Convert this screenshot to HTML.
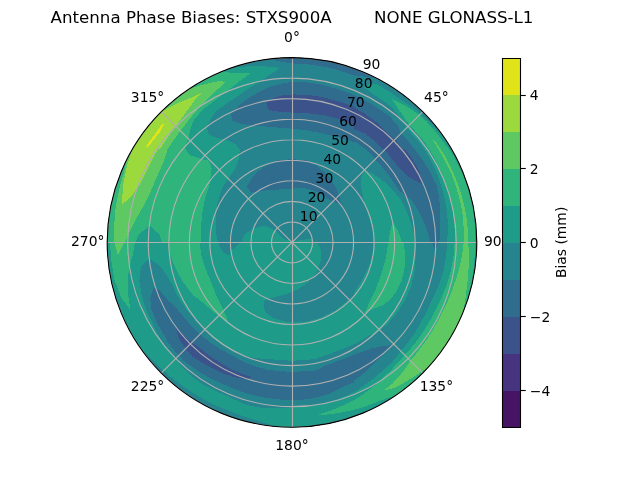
<!DOCTYPE html>
<html lang="en"><head><meta charset="utf-8"><title>Antenna Phase Biases</title>
<style>html,body{margin:0;padding:0;background:#fff;overflow:hidden}svg{display:block}</style>
</head><body>
<svg width="640" height="480" viewBox="0 0 460.8 345.6"> <defs> <style type="text/css">*{stroke-linejoin: round; stroke-linecap: butt}</style> </defs> <g id="figure_1"> <g id="patch_1"> <path d="M 0 345.6 L 460.8 345.6 L 460.8 0 L 0 0 z " style="fill: #ffffff"/> </g> <g id="axes_1"> <g id="patch_2"> <path d="M 343.29 174.52 C 343.29 157.05 339.85 139.75 333.16 123.60 C 326.48 107.46 316.67 92.79 304.32 80.44 C 291.96 68.08 277.30 58.28 261.15 51.60 C 245.01 44.91 227.71 41.47 210.24 41.47 C 192.76 41.47 175.46 44.91 159.32 51.60 C 143.17 58.28 128.51 68.08 116.15 80.44 C 103.80 92.79 93.99 107.46 87.31 123.60 C 80.62 139.75 77.18 157.05 77.18 174.52 C 77.18 192.00 80.62 209.30 87.31 225.44 C 93.99 241.58 103.80 256.25 116.15 268.61 C 128.51 280.96 143.17 290.76 159.32 297.45 C 175.46 304.14 192.76 307.58 210.24 307.58 C 227.71 307.58 245.01 304.14 261.15 297.45 C 277.30 290.76 291.96 280.96 304.32 268.61 C 316.67 256.25 326.48 241.58 333.16 225.44 C 339.85 209.30 343.29 192.00 343.29 174.52 M 210.24 174.52 C 210.24 174.52 210.24 174.52 210.24 174.52 C 210.24 174.52 210.24 174.52 210.24 174.52 C 210.24 174.52 210.24 174.52 210.24 174.52 C 210.24 174.52 210.24 174.52 210.24 174.52 C 210.24 174.52 210.24 174.52 210.24 174.52 C 210.24 174.52 210.24 174.52 210.24 174.52 C 210.24 174.52 210.24 174.52 210.24 174.52 C 210.24 174.52 210.24 174.52 210.24 174.52 C 210.24 174.52 210.24 174.52 210.24 174.52 C 210.24 174.52 210.24 174.52 210.24 174.52 C 210.24 174.52 210.24 174.52 210.24 174.52 C 210.24 174.52 210.24 174.52 210.24 174.52 C 210.24 174.52 210.24 174.52 210.24 174.52 C 210.24 174.52 210.24 174.52 210.24 174.52 C 210.24 174.52 210.24 174.52 210.24 174.52 C 210.24 174.52 210.24 174.52 210.24 174.52 z " style="fill: #ffffff"/> </g> <g id="contours" clip-path="url(#p0adf4e4803)"><g transform="scale(0.72)" shape-rendering="crispEdges"><rect x="100" y="50" width="390" height="390" fill="#25848e"/> <clipPath id="tc00"><rect x="86" y="36" width="144" height="113"/></clipPath> <g clip-path="url(#tc00)"><rect x="86" y="36" width="144" height="113" fill="#1e9c89"/><polygon points="241.6,73.8 230.0,72.7 223.0,71.3 220.3,65.7 154.4,100.6 117.6,149.0 125.4,156.8 184.1,150.0 186.4,143.2 188.3,138.7 189.7,131.6 193.2,120.9 202.9,109.3 212.6,102.1 222.2,94.4 230.0,88.6 241.6,80.2" fill="#2fb47c"/><polygon points="225.9,82.0 219.9,80.8 209.1,83.1 198.0,86.2 187.2,90.1 184.5,87.0 154.4,100.6 117.6,149.0 125.4,152.9 167.6,149.0 172.8,141.2 180.6,130.6 191.2,117.0 200.9,105.4 210.6,95.7 220.3,87.0" fill="#5ec962"/><polygon points="200.9,93.2 191.2,97.7 181.6,101.5 171.9,106.0 163.7,110.6 161.2,107.3 117.6,149.0 125.4,152.9 159.3,150.0 167.6,137.4 175.8,126.1 187.4,110.2 195.1,99.6" fill="#9bd93c"/><polygon points="145.7,146.7 162.6,123.4 164.1,124.2 160.6,131.2 147.8,147.4" fill="#dfe318"/><polygon points="241.6,92.8 230.0,101.1 222.2,106.8 217.2,110.1 212.2,116.3 206.6,127.5 209.1,134.5 217.2,138.2 228.4,140.7 241.6,145.1" fill="#25848e"/></g> <clipPath id="tc01"><rect x="230" y="36" width="124" height="113"/></clipPath> <g clip-path="url(#tc01)"><rect x="230" y="36" width="124" height="113" fill="#25848e"/><polygon points="226.1,139.3 228.4,140.7 236.0,144.4 239.7,150.0 239.7,152.9 226.1,152.9" fill="#1e9c89"/><polygon points="226.1,65.7 230.0,68.4 241.6,66.8 259.1,65.7 280.0,68.0 268.8,75.4 259.1,82.2 249.4,88.0 239.7,94.8 230.0,101.5 226.1,104.4" fill="#1e9c89"/><polygon points="226.1,72.5 230.0,73.0 250.3,73.2 239.7,81.2 230.0,88.9 226.1,91.8" fill="#2fb47c"/><polygon points="275.5,60.8 292.0,63.4 311.4,64.7 330.8,68.0 354.0,75.4 357.9,52.1 275.5,52.1" fill="#2f6c8e"/><polygon points="231.0,112.6 234.3,109.7 243.6,101.7 255.0,94.2 267.6,87.6 285.0,82.7 292.0,82.3 305.9,82.3 319.9,84.1 338.9,89.3 357.9,96.7 357.9,143.2 354.0,142.2 338.5,137.4 323.0,133.5 307.5,130.6 292.0,128.7 274.6,127.3 256.0,125.8 241.0,123.8 232.3,120.7" fill="#2f6c8e"/><polygon points="266.8,102.5 271.7,99.0 280.4,95.7 292.0,94.4 307.5,94.8 323.0,97.1 338.5,101.5 357.9,107.9 357.9,126.1 354.0,124.8 338.5,119.0 323.0,115.1 307.5,113.2 292.0,112.6 274.6,111.2 267.8,109.3" fill="#3b528b"/></g> <clipPath id="tc02"><rect x="354" y="36" width="144" height="113"/></clipPath> <g clip-path="url(#tc02)"><rect x="354" y="36" width="144" height="113" fill="#25848e"/><polygon points="350.1,61.8 354.0,66.7 365.6,70.5 376.9,77.3 369.5,77.7 361.8,76.2 354.0,75.4 350.1,74.4" fill="#2f6c8e"/><polygon points="346.8,91.8 357.1,96.3 371.8,104.1 388.1,114.9 397.0,124.2 401.3,133.3 406.7,139.1 415.0,149.8 416.0,151.3 350.1,150.9" fill="#2f6c8e"/><polygon points="350.1,105.4 354.0,107.3 365.6,114.1 377.2,122.8 386.0,131.9 392.8,137.8 397.6,142.2 403.4,150.9 384.0,150.9 374.9,141.2 365.0,133.7 356.3,130.0 350.1,127.3" fill="#3b528b"/><polygon points="350.1,139.3 356.1,142.4 365.0,148.8 368.5,152.9 350.1,152.9" fill="#25848e"/></g> <clipPath id="tc10"><rect x="86" y="149" width="144" height="93"/></clipPath> <g clip-path="url(#tc10)"><rect x="86" y="149" width="144" height="93" fill="#2fb47c"/><polygon points="125.4,145.1 167.6,145.1 167.6,149.0 164.1,160.6 157.3,176.1 149.6,193.6 142.8,207.1 135.1,220.7 129.2,232.3 124.4,243.9 113.8,243.9 114.1,226.5 115.7,207.1 119.6,187.8 124.4,170.3 126.3,160.6" fill="#5ec962"/><polygon points="129.2,145.1 132.5,149.0 127.3,164.5 123.4,183.9 121.5,205.2 131.2,196.5 138.9,185.8 144.8,174.2 151.5,160.6 157.9,149.0 158.7,145.1" fill="#9bd93c"/><polygon points="135.1,243.9 138.0,235.2 149.6,225.5 159.3,234.2 162.6,243.9" fill="#1e9c89"/><polygon points="183.5,145.1 189.3,154.8 197.1,157.7 208.7,160.6 211.6,168.4 209.7,183.9 204.8,199.4 201.9,214.9 200.9,230.4 201.3,245.9 241.6,245.9 241.6,145.1" fill="#1e9c89"/><polygon points="233.9,170.3 230.0,176.1 222.2,187.8 217.4,203.2 215.5,218.8 216.4,234.2 218.8,245.9 241.6,245.9" fill="#25848e"/></g> <clipPath id="tc11"><rect x="230" y="149" width="124" height="93"/></clipPath> <g clip-path="url(#tc11)"><rect x="230" y="149" width="124" height="93" fill="#25848e"/><polygon points="246.5,186.8 253.2,176.1 262.9,167.4 276.5,160.6 292.0,159.1 307.5,160.6 319.1,167.4 328.8,176.1 335.6,186.8 339.5,197.4 341.8,204.8 335.6,202.3 326.9,198.4 315.2,190.7 303.6,187.8 292.0,188.7 276.5,189.7 262.9,190.7 251.3,192.6" fill="#2f6c8e"/><polygon points="240.7,243.9 244.5,234.2 253.2,228.4 264.5,225.7 274.4,230.0 280.0,236.0 283.1,238.7 286.6,240.1 290.1,240.6 293.6,241.4 295.1,240.8 299.0,240.4 305.0,239.5 312.0,239.1 316.2,243.9" fill="#1e9c89"/><polygon points="226.1,145.1 240.1,145.1 239.7,150.0 238.5,160.0 234.7,169.9 230.0,176.1 226.1,180.0" fill="#1e9c89"/></g> <clipPath id="tc12"><rect x="354" y="149" width="144" height="93"/></clipPath> <g clip-path="url(#tc12)"><rect x="354" y="149" width="144" height="93" fill="#25848e"/><polygon points="359.8,143.2 365.0,148.8 371.2,155.0 375.5,159.5 381.3,166.2 387.5,173.8 393.7,182.5 398.8,190.1 405.3,195.5 411.9,200.3 417.9,210.0 423.0,219.9 427.0,230.0 429.9,240.1 431.9,248.0 440.6,248.0 439.4,242.4 440.2,226.9 440.4,213.5 439.2,197.4 436.3,184.1 428.8,169.5 421.4,158.3 415.0,149.8 412.1,145.1" fill="#2f6c8e"/><polygon points="383.1,145.1 385.0,150.0 392.6,160.2 399.9,168.4 407.5,176.1 415.0,180.4 421.8,183.9 420.1,173.2 416.2,165.5 410.0,155.4 402.4,146.3 401.5,145.1" fill="#3b528b"/><polygon points="364.7,169.5 372.4,173.8 380.0,178.6 387.5,185.0 392.6,190.1 401.1,200.0 405.9,210.0 410.0,219.9 413.1,230.0 415.0,240.1 415.8,248.0 374.3,248.0 374.3,243.9 373.4,234.2 370.5,222.6 365.6,207.1 361.8,191.6 360.8,178.1" fill="#1e9c89"/><polygon points="392.8,221.7 397.6,230.4 402.8,243.9 388.3,243.9 389.8,232.3" fill="#2fb47c"/></g> <clipPath id="tc20"><rect x="86" y="242" width="144" height="93"/></clipPath> <g clip-path="url(#tc20)"><rect x="86" y="242" width="144" height="93" fill="#1e9c89"/><polygon points="109.9,238.1 109.9,242.0 111.4,261.4 114.7,280.8 121.5,298.2 130.6,310.2 128.3,296.2 127.7,280.8 129.2,267.2 133.1,253.6 135.1,242.0 135.1,238.1" fill="#2fb47c"/><polygon points="112.8,238.1 114.1,242.0 118.0,255.2 121.5,247.8 124.6,242.0 125.0,238.1" fill="#5ec962"/><polygon points="167.6,238.1 167.6,242.0 169.9,253.6 174.8,267.2 183.5,282.7 193.2,295.3 200.0,300.3 211.0,309.6 220.3,317.6 228.4,321.8 221.9,306.5 215.7,294.1 210.6,280.8 204.8,267.2 200.9,253.6 200.0,242.0 200.0,238.1" fill="#2fb47c"/><polygon points="148.6,258.5 157.9,263.9 161.4,267.8 167.0,275.9 173.0,285.8 176.5,293.9 184.5,307.1 194.0,318.9 204.2,330.2 211.6,337.3 158.7,336.9 153.5,325.3 146.7,311.8 141.8,296.2 139.3,280.8 140.9,267.2" fill="#25848e"/><polygon points="153.5,287.3 159.9,290.4 168.0,300.1 175.4,307.1 180.0,312.3 184.3,317.8 188.7,323.0 200.2,334.2 203.3,337.3 164.7,336.9 157.3,323.4 151.5,309.8 150.2,298.2" fill="#2f6c8e"/><polygon points="175.9,327.6 184.5,337.3 178.5,337.3" fill="#3b528b"/><polygon points="217.4,238.1 219.3,245.9 223.2,252.7 230.0,255.6 233.9,256.5 233.9,238.1" fill="#25848e"/></g> <clipPath id="tc21"><rect x="230" y="242" width="124" height="93"/></clipPath> <g clip-path="url(#tc21)"><rect x="230" y="242" width="124" height="93" fill="#1e9c89"/><polygon points="317.2,238.1 317.2,242.0 321.1,249.8 320.7,261.4 316.2,273.0 307.5,282.7 297.8,289.5 286.2,294.3 274.6,297.2 264.9,300.1 263.3,305.9 265.8,312.7 272.6,317.6 282.3,321.1 292.0,322.4 307.5,321.4 321.1,317.6 334.6,310.8 346.2,302.1 354.0,296.2 357.9,294.3 357.9,238.1" fill="#25848e"/><polygon points="226.1,238.1 239.7,238.1 238.7,243.9 233.9,248.8 230.0,250.7 226.1,251.7" fill="#25848e"/></g> <clipPath id="tc22"><rect x="354" y="242" width="144" height="93"/></clipPath> <g clip-path="url(#tc22)"><rect x="354" y="242" width="144" height="93" fill="#25848e"/><polygon points="431.1,238.1 431.9,242.0 435.0,250.7 439.2,242.0 440.6,238.1" fill="#2f6c8e"/><polygon points="374.3,238.1 374.3,242.0 372.4,253.6 368.5,267.2 361.8,280.8 354.0,292.4 350.1,297.2 350.1,338.9 372.4,336.9 380.0,330.0 387.7,323.8 397.2,312.7 405.0,300.3 411.2,286.2 414.6,270.7 415.8,255.0 415.6,242.0 415.6,238.1" fill="#1e9c89"/><polygon points="388.3,238.1 388.3,242.0 386.0,257.5 381.1,274.9 375.3,290.4 369.5,302.1 364.7,313.3 373.4,308.8 383.1,305.0 389.8,300.1 395.7,292.4 401.5,280.8 404.8,267.2 405.3,253.6 403.4,242.0 403.4,238.1" fill="#2fb47c"/></g> <clipPath id="tc30"><rect x="86" y="335" width="144" height="113"/></clipPath> <g clip-path="url(#tc30)"><rect x="86" y="335" width="144" height="113" fill="#1e9c89"/><polygon points="156.0,330.0 159.3,336.9 163.3,342.8 170.9,353.8 178.5,362.5 184.5,369.5 193.2,377.6 204.8,385.4 218.4,392.2 230.0,397.0 233.9,398.6 233.9,331.1" fill="#25848e"/><polygon points="163.0,330.0 167.2,341.2 175.9,352.4 183.5,360.6 189.3,365.0 200.9,372.8 214.5,380.5 230.0,386.9 233.9,388.3 233.9,331.1" fill="#2f6c8e"/><polygon points="175.9,328.0 175.9,330.0 179.8,340.0 184.7,347.6 193.2,357.3 202.9,363.1 212.6,368.5 223.4,373.9 233.9,376.1 233.9,370.3 231.2,369.1 220.3,362.9 209.1,355.3 198.4,347.0 190.5,341.4 183.5,335.6" fill="#3b528b"/><polygon points="197.1,331.1 200.2,334.2 210.6,342.9 220.1,348.9 231.9,355.5 233.9,356.7 233.9,331.1" fill="#25848e"/><polygon points="205.2,331.1 215.5,340.2 229.8,349.9 233.9,351.7 233.9,331.1" fill="#1e9c89"/></g> <clipPath id="tc31"><rect x="230" y="335" width="124" height="113"/></clipPath> <g clip-path="url(#tc31)"><rect x="230" y="335" width="124" height="113" fill="#1e9c89"/><polygon points="226.1,347.4 229.8,349.9 241.8,355.0 254.4,358.1 269.3,359.2 292.0,360.8 314.7,359.2 326.5,355.0 342.0,349.3 357.1,342.6 357.9,342.2 357.9,391.6 355.7,392.5 340.1,399.5 320.5,404.2 306.3,406.5 292.0,407.5 277.5,408.0 262.7,407.9 249.8,405.9 242.8,403.4 229.4,397.2 224.0,395.1" fill="#25848e"/><polygon points="226.1,352.4 231.9,355.5 247.8,363.9 267.2,369.9 292.0,372.0 316.8,370.3 324.9,365.6 341.8,359.6 356.3,354.0 357.9,353.4 357.9,380.5 354.0,382.5 344.3,386.3 333.5,392.0 325.7,395.1 307.5,399.3 292.0,400.1 276.5,399.3 261.0,397.0 245.5,393.1 230.0,387.3 226.1,385.8" fill="#2f6c8e"/><polygon points="226.1,367.0 231.2,369.1 240.7,373.4 250.0,376.5 251.7,377.8 245.3,379.0 234.5,377.2 226.1,375.1" fill="#3b528b"/></g> <clipPath id="tc32"><rect x="354" y="335" width="144" height="113"/></clipPath> <g clip-path="url(#tc32)"><rect x="354" y="335" width="144" height="113" fill="#25848e"/><polygon points="350.1,355.9 356.9,353.6 372.4,348.2 383.4,345.9 391.8,345.1 383.4,353.6 375.7,362.1 367.8,370.1 356.9,378.6 350.1,383.4" fill="#2f6c8e"/><polygon points="350.1,331.1 373.4,331.1 369.3,335.6 356.9,342.8 350.1,346.6" fill="#1e9c89"/></g> <polygon points="282.3,427.6 280.7,427.2 279.1,426.9 277.5,426.5 275.9,426.1 274.3,425.7 272.8,425.3 271.2,424.9 269.6,424.5 268.1,424.0 266.5,423.5 265.0,423.1 263.5,422.6 261.9,422.1 260.4,421.6 258.9,421.2 257.3,420.7 255.8,420.3 254.3,419.9 252.8,419.4 251.2,418.9 249.7,418.5 248.2,418.0 246.7,417.5 245.2,416.9 243.7,416.4 242.3,415.9 240.8,415.4 239.3,414.8 237.8,414.2 236.4,413.7 234.9,413.1 233.4,412.5 232.0,411.9 230.6,411.2 229.1,410.7 227.6,410.2 226.1,409.6 224.7,409.1 223.2,408.5 221.7,407.9 220.3,407.3 218.8,406.7 217.4,406.1 216.0,405.4 214.6,404.7 213.1,404.1 211.7,403.4 210.3,402.7 208.9,401.9 207.6,401.2 206.2,400.5 204.8,399.8 203.4,399.0 202.0,398.3 200.6,397.5 199.3,396.7 197.9,395.9 196.6,395.1 195.2,394.3 193.9,393.5 192.6,392.6 191.2,391.8 189.9,390.9 188.6,390.1 187.3,389.2 186.0,388.3 184.7,387.4 183.4,386.5 182.1,385.6 180.9,384.6 179.6,383.7 178.3,382.8 177.1,381.8 175.8,380.8 174.6,379.9 173.4,378.9 172.1,377.9 170.9,376.9 169.7,375.9 168.5,374.8 167.3,373.8 166.1,372.7 165.0,371.7 163.8,370.6 162.6,369.6 161.4,368.5 160.2,367.5 159.0,366.4 157.8,365.3 156.7,364.2 155.5,363.2 154.4,362.0 153.2,360.9 152.1,359.8 151.0,358.7 149.9,357.5 148.8,356.3 147.7,355.2 146.6,354.0 145.5,352.8 144.4,351.6 143.3,350.4 142.2,349.2 141.2,348.0 140.1,346.8 139.1,345.5 138.1,344.3 137.0,343.0 136.0,341.8 135.0,340.5 134.0,339.2 133.1,337.9 131.6,338.8 130.1,339.7 130.9,341.1 131.8,342.5 132.7,343.9 133.6,345.3 134.5,346.7 135.4,348.0 136.3,349.4 137.3,350.8 138.2,352.1 139.2,353.4 140.1,354.8 141.1,356.1 142.1,357.4 143.1,358.7 144.2,360.0 145.2,361.3 146.2,362.6 147.3,363.8 148.4,365.1 149.4,366.3 150.5,367.6 151.6,368.8 152.7,370.0 153.8,371.2 155.0,372.4 156.1,373.6 157.3,374.8 158.4,376.0 159.6,377.1 160.8,378.3 162.0,379.4 163.2,380.6 164.4,381.7 165.6,382.8 166.8,383.9 168.1,385.0 169.3,386.0 170.6,387.1 171.8,388.2 173.1,389.2 174.4,390.2 175.7,391.3 177.0,392.3 178.3,393.3 179.6,394.3 181.0,395.2 182.3,396.2 183.6,397.1 185.0,398.1 186.4,399.0 187.7,399.9 189.1,400.8 190.5,401.7 191.9,402.6 193.3,403.5 194.7,404.3 196.1,405.2 197.5,406.0 199.0,406.8 200.4,407.6 201.9,408.4 203.3,409.2 204.8,410.0 206.2,410.7 207.7,411.5 209.2,412.2 210.7,412.9 212.2,413.6 213.7,414.3 215.2,415.0 216.7,415.6 218.2,416.3 219.7,416.9 221.2,417.6 222.8,418.2 224.3,418.8 225.8,419.3 227.4,419.9 228.9,420.5 230.5,421.0 232.1,421.5 233.6,422.1 235.2,422.6 236.8,423.1 238.3,423.5 239.9,424.0 241.5,424.4 243.1,424.9 244.7,425.3 246.3,425.7 247.9,426.1 249.5,426.5 251.1,426.8 252.7,427.2 254.3,427.5 256.0,427.8 257.6,428.1 259.2,428.4 260.8,428.7 262.4,429.0 264.1,429.2 265.7,429.5 267.3,429.7 269.0,429.9 270.6,430.1 272.3,430.3 273.9,430.4 275.5,430.6 277.2,430.7 278.8,430.8 280.5,431.0 282.1,431.0 282.2,429.3" fill="#25848e"/> <polygon points="363.6,87.5 364.8,88.3 366.1,89.1 368.6,90.8 371.0,92.5 373.5,94.2 375.9,95.9 378.4,97.5 380.9,99.1 383.3,100.8 385.7,102.5 388.0,104.3 390.2,106.3 392.4,108.2 394.4,110.5 396.2,112.8 398.1,115.2 399.8,117.6 401.6,120.0 403.2,122.4 404.8,124.9 406.3,127.4 408.1,129.6 410.0,131.7 411.8,133.9 413.7,136.0 415.6,138.1 417.4,140.2 419.2,142.4 420.9,144.7 422.6,147.0 424.2,149.3 425.7,151.7 427.2,154.1 428.6,156.5 430.0,158.9 431.4,161.4 432.6,164.0 433.8,166.5 435.0,169.1 436.1,171.7 437.1,174.3 438.1,176.9 439.1,179.5 440.0,182.2 440.9,184.8 441.7,187.5 442.5,190.2 443.2,192.9 443.9,195.6 444.5,198.3 445.1,201.0 445.6,203.7 446.1,206.4 446.5,209.2 446.9,211.9 447.3,214.7 447.5,217.4 447.6,220.2 447.7,222.9 447.8,225.7 447.8,228.4 447.7,231.2 447.6,233.9 447.5,236.6 447.3,239.4 447.1,242.1 446.9,244.8 446.8,247.5 446.6,250.2 446.3,252.9 446.0,255.6 445.7,258.3 445.3,260.9 444.8,263.6 444.3,266.2 443.7,268.9 443.0,271.5 442.4,274.1 441.6,276.7 440.9,279.2 440.0,281.8 439.1,284.3 438.1,286.8 437.0,289.3 436.0,291.7 434.8,294.1 433.7,296.5 432.5,298.9 431.2,301.2 430.2,303.7 429.2,306.1 428.1,308.5 427.0,310.9 425.8,313.3 424.6,315.7 423.3,318.0 422.1,320.3 420.8,322.7 419.5,325.0 418.2,327.3 416.8,329.5 415.4,331.8 413.9,334.0 412.4,336.2 410.9,338.4 409.3,340.6 407.7,342.7 406.0,344.9 404.3,346.9 402.6,349.0 400.9,351.0 399.2,353.2 397.6,355.4 395.9,357.6 394.2,359.7 392.4,361.8 390.4,363.7 388.4,365.6 386.4,367.4 384.3,369.2 382.2,371.0 380.2,372.9 378.1,374.7 376.0,376.6 373.8,378.4 371.6,380.1 369.4,381.8 367.1,383.4 364.8,385.0 362.5,386.7 360.1,388.2 357.7,389.8 355.3,391.3 352.8,392.8 350.3,394.0 347.7,395.1 345.0,396.2 342.4,397.3 339.7,398.3 337.1,399.3 334.4,400.3 331.6,401.1 328.9,401.9 326.1,402.6 323.3,403.3 320.5,403.9 317.7,404.5 314.9,405.1 312.1,405.5 309.2,406.0 306.4,406.3 303.5,406.7 300.6,407.0 297.8,407.2 294.9,407.4 292.0,407.5 292.0,409.0 292.0,410.6 292.0,412.2 292.0,413.7 292.0,415.3 292.0,416.8 292.0,418.4 292.0,419.9 292.0,421.5 292.0,423.0 292.0,424.6 292.0,426.1 292.0,427.7 292.0,429.3 293.6,429.2 295.3,429.2 296.9,429.2 298.5,429.1 300.2,429.1 301.8,429.0 303.4,428.9 305.1,428.8 306.7,428.7 308.3,428.5 309.9,428.4 311.6,428.2 313.2,428.0 314.8,427.9 316.4,427.7 318.0,427.4 319.7,427.2 321.3,426.9 322.9,426.7 324.5,426.4 326.1,426.1 327.7,425.8 329.3,425.5 330.9,425.2 332.5,424.8 334.1,424.5 335.7,424.1 337.3,423.7 338.8,423.3 340.4,422.9 342.0,422.4 343.6,422.0 345.1,421.5 346.7,421.1 348.3,420.6 349.8,420.1 351.4,419.6 352.9,419.0 354.5,418.5 356.0,418.0 357.5,417.4 359.0,416.8 360.6,416.2 362.1,415.6 363.6,415.0 365.1,414.4 366.6,413.7 368.1,413.1 369.6,412.4 371.1,411.7 372.5,411.0 374.0,410.3 375.5,409.6 376.9,408.8 378.4,408.1 379.8,407.3 381.3,406.6 382.7,405.8 384.1,405.0 385.5,404.2 386.9,403.3 388.3,402.5 389.7,401.6 391.1,400.8 392.5,399.9 393.9,399.0 395.2,398.1 396.6,397.2 398.0,396.3 399.3,395.4 400.6,394.4 402.0,393.5 403.3,392.5 404.6,391.5 405.9,390.5 407.2,389.5 408.4,388.5 409.7,387.5 411.0,386.5 412.2,385.4 413.5,384.4 414.7,383.3 415.9,382.2 417.2,381.1 418.4,380.0 419.6,378.9 420.8,377.8 421.9,376.7 423.1,375.5 424.3,374.4 425.4,373.2 426.5,372.1 427.7,370.9 428.8,369.7 429.9,368.5 431.0,367.3 432.1,366.1 433.2,364.8 434.2,363.6 435.3,362.3 436.3,361.1 437.3,359.8 438.4,358.5 439.4,357.3 440.4,356.0 441.4,354.7 442.3,353.4 443.3,352.0 444.3,350.7 445.2,349.4 446.1,348.0 447.0,346.7 447.9,345.3 448.8,344.0 449.7,342.6 450.6,341.2 451.4,339.8 452.3,338.4 453.1,337.0 453.9,335.6 454.8,334.2 455.5,332.8 456.3,331.3 457.1,329.9 457.9,328.4 458.6,327.0 459.3,325.5 460.1,324.1 460.8,322.6 461.5,321.1 462.1,319.6 462.8,318.1 463.5,316.7 464.1,315.1 464.7,313.6 465.4,312.1 466.0,310.6 466.5,309.1 467.1,307.6 467.7,306.0 468.2,304.5 468.8,303.0 469.3,301.4 469.8,299.9 470.3,298.3 470.8,296.7 471.2,295.2 471.7,293.6 472.1,292.0 472.6,290.5 473.0,288.9 473.4,287.3 473.8,285.7 474.1,284.1 474.5,282.5 474.8,280.9 475.2,279.3 475.5,277.7 475.8,276.1 476.1,274.5 476.3,272.9 476.6,271.3 476.9,269.7 477.1,268.1 477.3,266.4 477.5,264.8 477.7,263.2 477.9,261.6 478.0,260.0 478.2,258.3 478.3,256.7 478.4,255.1 478.5,253.4 478.6,251.8 478.7,250.2 478.8,248.6 478.8,246.9 478.8,245.3 478.8,243.7 478.9,242.0 478.8,240.4 478.8,238.8 478.8,237.1 478.7,235.5 478.7,233.9 478.6,232.2 478.5,230.6 478.4,229.0 478.2,227.3 478.1,225.7 478.0,224.1 477.8,222.5 477.6,220.8 477.4,219.2 477.2,217.6 477.0,216.0 476.7,214.4 476.5,212.8 476.2,211.1 475.9,209.5 475.6,207.9 475.3,206.3 475.0,204.7 474.7,203.1 474.3,201.5 474.0,199.9 473.6,198.4 473.2,196.8 472.8,195.2 472.4,193.6 471.9,192.0 471.5,190.5 471.0,188.9 470.6,187.3 470.1,185.8 469.6,184.2 469.1,182.7 468.5,181.1 468.0,179.6 467.4,178.1 466.9,176.5 466.3,175.0 465.7,173.5 465.1,172.0 464.4,170.5 463.8,169.0 463.2,167.5 462.5,166.0 461.8,164.5 461.1,163.0 460.4,161.5 459.7,160.1 459.0,158.6 458.3,157.1 457.5,155.7 456.7,154.2 456.0,152.8 455.2,151.4 454.4,150.0 453.6,148.5 452.7,147.1 451.9,145.7 451.1,144.3 450.2,142.9 449.3,141.6 448.4,140.2 447.5,138.9 446.5,137.5 445.3,136.4 444.0,135.3 442.8,134.2 441.5,133.1 440.2,132.1 439.0,131.0 437.7,129.9 436.5,128.9 435.4,127.7 434.2,126.5 433.1,125.4 432.0,124.2 430.9,123.1 429.7,122.0 428.6,120.8 427.4,119.7 426.2,118.7 425.0,117.6 423.8,116.5 422.6,115.5 421.4,114.4 420.2,113.4 419.0,112.4 417.7,111.4 416.5,110.4 415.2,109.5 413.9,108.5 412.7,107.6 411.4,106.6 410.1,105.7 408.7,104.8 407.4,104.0 406.1,103.1 404.8,102.2 403.5,101.3 402.2,100.4 400.9,99.5 399.6,98.7 398.3,97.8 396.9,97.0 395.6,96.1 394.4,95.2 393.1,94.3 391.8,93.4 390.5,92.5 389.2,91.6 387.9,90.8 386.6,89.9 385.2,89.1 383.9,88.3 382.5,87.5 381.2,86.8 379.8,86.0 378.4,85.3 377.0,84.6 375.6,84.0 373.8,83.9 372.1,83.8 370.3,84.0 368.4,84.3 366.8,85.4 365.2,86.4 363.6,87.5" fill="#1e9c89"/> <polygon points="391.6,99.1 392.5,100.4 393.4,101.8 394.3,103.1 395.2,104.4 396.1,105.7 397.1,107.0 398.0,108.2 398.9,109.5 399.7,110.8 400.6,112.1 401.5,113.3 402.3,114.6 403.1,115.9 404.0,117.2 404.8,118.5 405.6,119.7 407.4,122.1 409.1,124.5 411.1,126.7 413.0,128.8 415.0,131.0 416.9,133.1 418.9,135.2 420.8,137.4 422.7,139.6 424.5,142.0 426.1,144.3 427.7,146.8 429.3,149.2 430.8,151.7 432.3,154.2 433.7,156.7 435.1,159.2 436.4,161.8 437.7,164.4 438.9,167.1 440.0,169.7 441.1,172.4 442.2,175.0 443.2,177.7 444.2,180.5 445.2,183.1 446.1,185.8 447.0,188.6 447.9,191.3 448.7,194.1 449.5,196.8 450.2,199.6 450.9,202.4 451.5,205.2 452.1,208.0 452.6,210.8 453.1,213.6 453.5,216.4 453.8,219.3 454.1,222.1 454.3,225.0 454.5,227.8 454.6,230.7 454.7,233.5 454.7,236.4 454.7,239.2 454.6,242.1 454.5,244.9 454.3,247.7 454.1,250.6 453.8,253.4 453.5,256.2 453.1,259.0 452.6,261.8 452.1,264.6 451.5,267.4 450.9,270.1 450.2,272.9 449.5,275.6 448.7,278.3 447.9,281.0 447.0,283.6 446.1,286.3 445.1,288.9 444.1,291.5 443.0,294.1 442.0,296.7 440.8,299.3 439.6,301.8 438.4,304.3 437.2,306.8 436.0,309.3 434.8,311.8 433.5,314.2 432.2,316.7 430.8,319.1 429.4,321.5 428.0,323.9 426.6,326.3 425.2,328.7 423.7,331.0 422.2,333.3 420.6,335.6 419.0,337.9 417.3,340.1 415.7,342.3 413.9,344.5 412.2,346.7 410.4,348.8 408.6,350.9 406.7,352.9 404.8,355.0 403.0,357.1 401.1,359.2 399.2,361.3 397.3,363.3 395.4,365.4 393.5,367.5 391.5,369.6 389.5,371.6 387.4,373.6 385.4,375.6 383.3,377.6 381.2,379.6 379.1,381.6 376.9,383.5 374.7,385.4 372.4,387.2 370.1,389.1 367.7,390.8 365.3,392.6 362.9,394.3 360.5,396.1 358.0,397.7 356.7,398.6 355.5,399.4 352.9,400.8 350.2,402.1 347.5,403.4 344.7,404.6 342.0,405.8 340.6,406.4 339.2,407.0 337.8,407.6 336.5,408.2 335.1,408.8 333.7,409.3 332.2,409.9 330.8,410.5 329.4,411.0 328.0,411.5 326.5,412.0 325.1,412.5 323.6,413.0 322.2,413.5 320.7,413.9 319.2,414.4 317.8,414.8 316.3,415.2 316.3,415.2 317.8,415.2 319.4,415.1 320.9,415.0 322.4,414.9 324.0,414.8 325.5,414.6 327.0,414.5 328.6,414.3 330.1,414.1 331.6,414.0 333.2,413.8 334.7,413.5 336.2,413.3 337.8,413.1 339.3,412.8 340.8,412.5 342.4,412.2 343.9,411.9 345.4,411.6 346.9,411.3 348.5,411.0 350.0,410.7 351.5,410.4 353.1,410.1 354.6,409.7 356.1,409.3 357.6,408.8 359.1,408.4 360.6,407.9 362.1,407.5 363.6,407.0 365.1,406.5 366.6,406.0 368.1,405.5 369.6,405.0 371.1,404.4 372.6,403.8 374.1,403.3 375.5,402.7 377.0,402.1 378.5,401.5 380.0,401.0 381.5,400.4 383.0,399.8 384.4,399.1 385.9,398.5 387.5,398.0 389.0,397.4 390.5,396.9 392.1,396.3 393.7,395.8 395.2,395.2 396.9,394.8 398.6,394.4 400.3,394.0 401.9,393.5 403.3,392.5 404.6,391.5 405.9,390.6 407.2,389.6 408.4,388.5 409.7,387.5 411.0,386.5 412.2,385.4 413.5,384.4 414.7,383.3 415.9,382.2 417.1,381.2 418.4,380.1 419.6,378.9 420.7,377.8 421.9,376.7 423.1,375.6 424.2,374.4 425.4,373.2 426.5,372.1 427.7,370.9 428.8,369.7 429.9,368.5 431.0,367.3 432.1,366.1 433.1,364.8 434.2,363.6 435.3,362.4 436.3,361.1 437.3,359.8 438.4,358.6 439.4,357.3 440.4,356.0 441.4,354.7 442.3,353.4 443.3,352.1 444.2,350.7 445.2,349.4 446.1,348.0 447.0,346.7 447.9,345.3 448.8,344.0 449.7,342.6 450.6,341.2 451.4,339.8 452.3,338.4 453.1,337.0 453.9,335.6 454.8,334.2 455.5,332.8 456.3,331.3 457.1,329.9 457.9,328.4 458.6,327.0 459.3,325.5 460.1,324.1 460.8,322.6 461.5,321.1 462.1,319.6 462.8,318.1 463.5,316.7 464.1,315.2 464.7,313.6 465.3,312.1 465.7,310.5 466.1,308.9 466.5,307.3 466.9,305.7 467.2,304.1 467.6,302.5 467.9,300.9 468.2,299.3 468.5,297.7 468.8,296.1 469.0,294.5 469.3,292.9 469.5,291.3 469.8,289.7 470.2,288.1 470.5,286.6 470.9,285.0 471.2,283.4 471.5,281.9 471.8,280.3 472.1,278.7 472.4,277.1 472.6,275.5 472.9,273.9 473.1,272.4 473.3,270.8 473.5,269.2 473.7,267.6 473.9,266.0 474.0,264.4 474.2,262.8 474.3,261.2 474.4,259.6 474.5,258.0 474.6,256.4 474.7,254.8 474.7,253.2 474.8,251.6 474.8,250.0 474.8,248.4 474.8,246.8 474.8,245.2 474.8,243.6 474.8,242.0 474.8,240.4 474.8,238.8 474.9,237.2 474.9,235.6 474.9,234.0 474.9,232.4 474.8,230.8 474.8,229.2 474.7,227.6 474.6,226.0 474.6,224.4 474.5,222.8 474.3,221.2 474.2,219.6 474.1,218.0 473.9,216.4 473.7,214.8 473.5,213.2 473.3,211.6 473.1,210.0 472.8,208.4 472.5,206.9 472.2,205.3 471.8,203.7 471.5,202.2 471.1,200.6 470.7,199.0 470.3,197.5 469.9,195.9 469.5,194.4 469.1,192.8 468.6,191.3 468.2,189.7 467.7,188.2 467.2,186.7 466.7,185.1 466.2,183.6 465.7,182.1 465.1,180.6 464.6,179.1 464.0,177.6 463.4,176.1 462.8,174.6 462.2,173.1 461.5,171.7 460.8,170.2 460.1,168.8 459.4,167.3 458.7,165.9 458.0,164.5 457.2,163.0 456.5,161.6 455.7,160.2 454.9,158.8 454.1,157.4 453.3,156.0 452.5,154.7 451.7,153.3 450.8,151.9 450.0,150.6 449.0,149.3 448.1,148.0 447.1,146.7 446.2,145.4 445.2,144.2 444.2,142.9 443.2,141.7 442.2,140.4 441.3,139.1 440.3,137.9 439.4,136.6 438.4,135.3 437.5,134.1 436.5,132.8 435.5,131.6 434.5,130.4 433.5,129.1 432.5,127.9 431.4,126.8 430.3,125.6 429.3,124.4 428.2,123.3 427.1,122.1 426.0,121.0 424.8,119.9 423.7,118.8 422.6,117.7 421.4,116.6 420.2,115.6 419.0,114.6 417.7,113.7 416.3,112.8 415.0,111.9 413.7,111.1 412.3,110.2 411.0,109.3 409.7,108.5 408.4,107.6 407.0,106.8 405.7,106.0 404.3,105.2 402.9,104.5 401.5,103.7 400.1,103.0 398.7,102.3 397.3,101.6 395.9,101.0 394.5,100.3 393.0,99.7 391.6,99.1" fill="#2fb47c"/> <polygon points="431.4,137.4 432.2,138.7 433.0,140.0 433.7,141.3 434.5,142.6 435.3,143.9 436.0,145.2 436.8,146.5 437.6,147.8 438.4,149.0 439.2,150.3 440.0,151.6 440.7,152.9 441.5,154.2 442.2,155.6 442.9,156.9 443.7,158.2 444.4,159.5 445.1,160.8 445.8,162.2 446.5,163.5 447.2,164.9 447.8,166.2 448.5,167.6 449.1,168.9 449.7,170.3 450.4,171.7 451.0,173.1 451.5,174.4 452.1,175.8 452.7,177.2 453.2,178.6 453.8,180.0 454.3,181.5 454.8,182.9 455.3,184.3 455.7,185.7 456.2,187.1 456.7,188.6 457.1,190.0 457.5,191.5 458.0,192.9 458.4,194.4 458.7,195.8 459.1,197.3 459.5,198.7 459.8,200.2 460.2,201.6 460.5,203.1 460.8,204.6 461.1,206.1 461.4,207.5 461.7,209.0 461.9,210.5 462.2,212.0 462.4,213.4 462.6,214.9 462.8,216.4 462.9,217.9 463.2,220.9 463.4,223.9 463.6,226.9 463.7,229.9 463.8,232.9 463.8,235.9 463.8,238.8 463.7,241.8 463.4,244.8 463.1,247.8 462.7,250.7 462.3,253.7 461.8,256.6 461.3,259.5 460.7,262.4 460.0,265.3 459.3,268.2 458.5,271.0 457.7,273.9 456.8,276.7 455.9,279.5 454.9,282.2 453.9,285.0 453.0,287.7 452.0,290.5 451.0,293.2 450.0,295.9 448.9,298.6 447.7,301.2 446.5,303.9 445.3,306.5 444.1,309.1 442.9,311.7 441.6,314.3 440.3,316.9 438.9,319.4 437.5,321.9 436.0,324.4 434.6,326.9 433.2,329.4 431.7,331.9 430.2,334.3 428.6,336.8 427.1,339.2 425.4,341.5 423.7,343.9 422.0,346.2 420.3,348.5 418.5,350.8 416.7,353.1 414.9,355.3 413.0,357.5 411.0,359.7 409.4,362.1 408.7,363.5 407.9,364.8 407.1,366.1 406.3,367.3 404.4,369.7 403.5,370.9 402.6,372.1 401.6,373.3 400.7,374.4 399.7,375.6 398.7,376.8 397.7,377.9 396.7,379.0 395.7,380.2 394.7,381.3 393.6,382.4 392.6,383.5 391.4,384.5 390.2,385.4 389.0,386.4 387.9,387.3 386.6,388.2 385.4,389.1 384.2,390.0 383.0,390.9 383.0,390.9 384.5,390.5 386.1,390.1 387.6,389.6 389.1,389.2 390.7,388.8 392.2,388.3 393.7,387.8 395.3,387.3 396.7,386.7 398.2,386.1 399.6,385.3 401.0,384.5 402.3,383.8 403.7,383.0 405.0,382.2 406.4,381.4 407.7,380.5 409.1,379.7 410.4,378.9 411.8,378.0 413.1,377.2 414.4,376.3 415.8,375.4 417.1,374.5 418.4,373.6 419.7,372.7 421.1,371.8 422.4,370.9 423.8,370.0 425.2,369.2 426.6,368.3 428.0,367.4 429.4,366.5 430.8,365.6 432.1,364.6 433.5,363.7 434.7,362.6 436.0,361.5 437.0,360.2 438.0,359.0 439.0,357.7 440.0,356.4 441.0,355.1 442.0,353.8 442.9,352.5 443.9,351.2 444.8,349.9 445.8,348.6 446.7,347.2 447.6,345.9 448.5,344.5 449.4,343.2 450.2,341.8 451.1,340.4 451.9,339.0 452.8,337.6 453.6,336.2 454.4,334.8 455.2,333.4 456.0,332.0 456.7,330.6 457.5,329.1 458.2,327.7 459.0,326.3 459.7,324.8 460.4,323.3 461.0,321.8 461.6,320.3 461.9,318.7 462.2,317.0 462.5,315.4 462.8,313.8 463.0,312.2 463.3,310.5 463.5,308.9 463.8,307.3 464.1,305.7 464.4,304.1 464.7,302.6 464.9,301.0 465.2,299.4 465.5,297.8 465.7,296.2 465.9,294.6 466.1,293.1 466.3,291.5 466.5,289.9 466.7,288.3 466.9,286.8 467.1,285.2 467.3,283.6 467.5,282.1 467.7,280.5 467.8,279.0 468.0,277.4 468.1,275.8 468.2,274.3 468.4,272.7 468.4,271.2 468.5,269.6 468.6,268.0 468.6,266.5 468.7,264.9 468.7,263.4 468.8,261.8 468.8,260.3 468.8,258.7 468.8,257.2 468.8,255.6 468.8,254.1 468.8,252.6 468.7,251.0 468.6,249.5 468.6,247.9 468.5,246.4 468.4,244.9 468.3,243.3 468.2,241.8 468.2,240.3 468.1,238.7 468.1,237.2 468.0,235.7 468.0,234.2 467.9,232.6 467.8,231.1 467.7,229.6 467.6,228.1 467.5,226.5 467.3,225.0 467.2,223.5 467.0,222.0 466.8,220.5 466.6,218.9 466.4,217.4 466.2,215.9 465.9,214.4 465.7,212.9 465.4,211.4 465.1,209.9 464.8,208.4 464.5,206.9 464.2,205.4 463.8,203.9 463.4,202.4 463.1,200.9 462.7,199.5 462.3,198.0 461.9,196.5 461.4,195.1 461.0,193.6 460.6,192.1 460.1,190.7 459.6,189.2 459.1,187.8 458.6,186.3 458.1,184.9 457.6,183.5 457.1,182.0 456.5,180.6 455.9,179.2 455.4,177.8 454.8,176.4 454.2,175.0 453.6,173.6 453.0,172.2 452.4,170.8 451.7,169.4 451.1,168.0 450.4,166.6 449.8,165.3 449.1,163.9 448.4,162.5 447.7,161.2 447.0,159.8 446.2,158.5 445.5,157.2 444.7,155.8 444.0,154.5 443.2,153.2 442.4,151.9 441.5,150.7 440.7,149.4 439.9,148.1 439.0,146.9 438.1,145.6 437.3,144.4 436.3,143.2 435.3,142.0 434.4,140.8 433.4,139.7 432.4,138.5 431.4,137.4" fill="#5ec962"/></g></g> <g id="matplotlib.axis_1"> <g id="xtick_1"> <g id="line2d_1"> <path d="M 210.6 174.52 L 210.6 41.47 " clip-path="url(#p0adf4e4803)" style="fill: none; stroke: #b0b0b0; stroke-width: 0.8; stroke-linecap: square"/> </g> <g id="text_1"> <text style="white-space: pre; font-size: 10px; font-family: 'DejaVu Sans', 'Liberation Sans', sans-serif; text-anchor: middle" x="210.24" y="30.23">0°</text> </g> </g> <g id="xtick_2"> <g id="line2d_2"> <path d="M 210.24 174.52 L 304.32 80.44 " clip-path="url(#p0adf4e4803)" style="fill: none; stroke: #b0b0b0; stroke-width: 0.8; stroke-linecap: square"/> </g> <g id="text_2"> <text style="white-space: pre; font-size: 10px; font-family: 'DejaVu Sans', 'Liberation Sans', sans-serif; text-anchor: middle" x="314.22" y="73.30">45°</text> </g> </g> <g id="xtick_3"> <g id="line2d_3"> <path d="M 210.24 174.6 L 343.29 174.6 " clip-path="url(#p0adf4e4803)" style="fill: none; stroke: #b0b0b0; stroke-width: 0.8; stroke-linecap: square"/> </g> <g id="text_3"> <text style="white-space: pre; font-size: 10px; font-family: 'DejaVu Sans', 'Liberation Sans', sans-serif; text-anchor: middle" x="357.29" y="177.28">90°</text> </g> </g> <g id="xtick_4"> <g id="line2d_4"> <path d="M 210.24 174.52 L 304.32 268.61 " clip-path="url(#p0adf4e4803)" style="fill: none; stroke: #b0b0b0; stroke-width: 0.8; stroke-linecap: square"/> </g> <g id="text_4"> <text style="white-space: pre; font-size: 10px; font-family: 'DejaVu Sans', 'Liberation Sans', sans-serif; text-anchor: middle" x="314.22" y="281.27">135°</text> </g> </g> <g id="xtick_5"> <g id="line2d_5"> <path d="M 210.6 174.52 L 210.6 307.58 " clip-path="url(#p0adf4e4803)" style="fill: none; stroke: #b0b0b0; stroke-width: 0.8; stroke-linecap: square"/> </g> <g id="text_5"> <text style="white-space: pre; font-size: 10px; font-family: 'DejaVu Sans', 'Liberation Sans', sans-serif; text-anchor: middle" x="210.24" y="324.34">180°</text> </g> </g> <g id="xtick_6"> <g id="line2d_6"> <path d="M 210.24 174.52 L 116.15 268.61 " clip-path="url(#p0adf4e4803)" style="fill: none; stroke: #b0b0b0; stroke-width: 0.8; stroke-linecap: square"/> </g> <g id="text_6"> <text style="white-space: pre; font-size: 10px; font-family: 'DejaVu Sans', 'Liberation Sans', sans-serif; text-anchor: middle" x="106.25" y="281.27">225°</text> </g> </g> <g id="xtick_7"> <g id="line2d_7"> <path d="M 210.24 174.6 L 77.18 174.6 " clip-path="url(#p0adf4e4803)" style="fill: none; stroke: #b0b0b0; stroke-width: 0.8; stroke-linecap: square"/> </g> <g id="text_7"> <text style="white-space: pre; font-size: 10px; font-family: 'DejaVu Sans', 'Liberation Sans', sans-serif; text-anchor: middle" x="63.18" y="177.28">270°</text> </g> </g> <g id="xtick_8"> <g id="line2d_8"> <path d="M 210.24 174.52 L 116.15 80.44 " clip-path="url(#p0adf4e4803)" style="fill: none; stroke: #b0b0b0; stroke-width: 0.8; stroke-linecap: square"/> </g> <g id="text_8"> <text style="white-space: pre; font-size: 10px; font-family: 'DejaVu Sans', 'Liberation Sans', sans-serif; text-anchor: middle" x="106.25" y="73.30">315°</text> </g> </g> </g> <g id="matplotlib.axis_2"> <g id="ytick_1"> <g id="line2d_9"> <path d="M 210.24 159.74 C 212.18 159.74 214.10 160.12 215.89 160.86 C 217.69 161.61 219.32 162.70 220.69 164.07 C 222.06 165.44 223.15 167.07 223.89 168.87 C 224.64 170.66 225.02 172.58 225.02 174.52 C 225.02 176.46 224.64 178.39 223.89 180.18 C 223.15 181.97 222.06 183.60 220.69 184.98 C 219.32 186.35 217.69 187.44 215.89 188.18 C 214.10 188.92 212.18 189.31 210.24 189.31 C 208.29 189.31 206.37 188.92 204.58 188.18 C 202.78 187.44 201.15 186.35 199.78 184.98 C 198.41 183.60 197.32 181.97 196.58 180.18 C 195.83 178.39 195.45 176.46 195.45 174.52 C 195.45 172.58 195.83 170.66 196.58 168.87 C 197.32 167.07 198.41 165.44 199.78 164.07 C 201.15 162.70 202.78 161.61 204.58 160.86 C 206.37 160.12 208.29 159.74 210.24 159.74 " clip-path="url(#p0adf4e4803)" style="fill: none; stroke: #b0b0b0; stroke-width: 0.8; stroke-linecap: square"/> </g> <g id="text_9"> <text style="white-space: pre; font-size: 10px; font-family: 'DejaVu Sans', 'Liberation Sans', sans-serif; text-anchor: start" x="215.89" y="158.78">10</text> </g> </g> <g id="ytick_2"> <g id="line2d_10"> <path d="M 210.24 144.96 C 214.12 144.96 217.96 145.72 221.55 147.21 C 225.14 148.69 228.40 150.87 231.14 153.62 C 233.89 156.36 236.07 159.62 237.55 163.21 C 239.04 166.80 239.80 170.64 239.80 174.52 C 239.80 178.41 239.04 182.25 237.55 185.84 C 236.07 189.43 233.89 192.69 231.14 195.43 C 228.40 198.18 225.14 200.35 221.55 201.84 C 217.96 203.33 214.12 204.09 210.24 204.09 C 206.35 204.09 202.51 203.33 198.92 201.84 C 195.33 200.35 192.07 198.18 189.33 195.43 C 186.58 192.69 184.40 189.43 182.92 185.84 C 181.43 182.25 180.67 178.41 180.67 174.52 C 180.67 170.64 181.43 166.80 182.92 163.21 C 184.40 159.62 186.58 156.36 189.33 153.62 C 192.07 150.87 195.33 148.69 198.92 147.21 C 202.51 145.72 206.35 144.96 210.24 144.96 " clip-path="url(#p0adf4e4803)" style="fill: none; stroke: #b0b0b0; stroke-width: 0.8; stroke-linecap: square"/> </g> <g id="text_10"> <text style="white-space: pre; font-size: 10px; font-family: 'DejaVu Sans', 'Liberation Sans', sans-serif; text-anchor: start" x="221.55" y="145.13">20</text> </g> </g> <g id="ytick_3"> <g id="line2d_11"> <path d="M 210.24 130.17 C 216.06 130.17 221.83 131.32 227.21 133.55 C 232.59 135.78 237.48 139.04 241.60 143.16 C 245.71 147.28 248.98 152.17 251.21 157.55 C 253.44 162.93 254.59 168.70 254.59 174.52 C 254.59 180.35 253.44 186.11 251.21 191.50 C 248.98 196.88 245.71 201.77 241.60 205.88 C 237.48 210.00 232.59 213.27 227.21 215.50 C 221.83 217.73 216.06 218.88 210.24 218.88 C 204.41 218.88 198.64 217.73 193.26 215.50 C 187.88 213.27 182.99 210.00 178.87 205.88 C 174.76 201.77 171.49 196.88 169.26 191.50 C 167.03 186.11 165.88 180.35 165.88 174.52 C 165.88 168.70 167.03 162.93 169.26 157.55 C 171.49 152.17 174.76 147.28 178.87 143.16 C 182.99 139.04 187.88 135.78 193.26 133.55 C 198.64 131.32 204.41 130.17 210.24 130.17 " clip-path="url(#p0adf4e4803)" style="fill: none; stroke: #b0b0b0; stroke-width: 0.8; stroke-linecap: square"/> </g> <g id="text_11"> <text style="white-space: pre; font-size: 10px; font-family: 'DejaVu Sans', 'Liberation Sans', sans-serif; text-anchor: start" x="227.21" y="131.47">30</text> </g> </g> <g id="ytick_4"> <g id="line2d_12"> <path d="M 210.24 115.39 C 218.00 115.39 225.69 116.92 232.87 119.89 C 240.04 122.86 246.56 127.22 252.05 132.71 C 257.54 138.20 261.90 144.72 264.87 151.89 C 267.84 159.07 269.37 166.76 269.37 174.52 C 269.37 182.29 267.84 189.98 264.87 197.15 C 261.90 204.33 257.54 210.85 252.05 216.34 C 246.56 221.83 240.04 226.19 232.87 229.16 C 225.69 232.13 218.00 233.66 210.24 233.66 C 202.47 233.66 194.78 232.13 187.60 229.16 C 180.43 226.19 173.91 221.83 168.42 216.34 C 162.93 210.85 158.57 204.33 155.60 197.15 C 152.63 189.98 151.10 182.29 151.10 174.52 C 151.10 166.76 152.63 159.07 155.60 151.89 C 158.57 144.72 162.93 138.20 168.42 132.71 C 173.91 127.22 180.43 122.86 187.60 119.89 C 194.78 116.92 202.47 115.39 210.24 115.39 " clip-path="url(#p0adf4e4803)" style="fill: none; stroke: #b0b0b0; stroke-width: 0.8; stroke-linecap: square"/> </g> <g id="text_12"> <text style="white-space: pre; font-size: 10px; font-family: 'DejaVu Sans', 'Liberation Sans', sans-serif; text-anchor: start" x="232.87" y="117.81">40</text> </g> </g> <g id="ytick_5"> <g id="line2d_13"> <path d="M 210.24 100.60 C 219.94 100.60 229.55 102.52 238.52 106.23 C 247.49 109.94 255.64 115.39 262.50 122.25 C 269.37 129.12 274.81 137.27 278.53 146.24 C 282.24 155.20 284.16 164.82 284.16 174.52 C 284.16 184.23 282.24 193.84 278.53 202.81 C 274.81 211.78 269.37 219.93 262.50 226.79 C 255.64 233.66 247.49 239.10 238.52 242.82 C 229.55 246.53 219.94 248.44 210.24 248.44 C 200.53 248.44 190.92 246.53 181.95 242.82 C 172.98 239.10 164.83 233.66 157.97 226.79 C 151.10 219.93 145.66 211.78 141.94 202.81 C 138.23 193.84 136.32 184.23 136.32 174.52 C 136.32 164.82 138.23 155.20 141.94 146.24 C 145.66 137.27 151.10 129.12 157.97 122.25 C 164.83 115.39 172.98 109.94 181.95 106.23 C 190.92 102.52 200.53 100.60 210.24 100.60 " clip-path="url(#p0adf4e4803)" style="fill: none; stroke: #b0b0b0; stroke-width: 0.8; stroke-linecap: square"/> </g> <g id="text_13"> <text style="white-space: pre; font-size: 10px; font-family: 'DejaVu Sans', 'Liberation Sans', sans-serif; text-anchor: start" x="238.52" y="104.15">50</text> </g> </g> <g id="ytick_6"> <g id="line2d_14"> <path d="M 210.24 85.82 C 221.88 85.82 233.42 88.11 244.18 92.57 C 254.94 97.03 264.72 103.56 272.96 111.80 C 281.19 120.04 287.73 129.82 292.19 140.58 C 296.64 151.34 298.94 162.87 298.94 174.52 C 298.94 186.17 296.64 197.71 292.19 208.47 C 287.73 219.23 281.19 229.01 272.96 237.25 C 264.72 245.48 254.94 252.02 244.18 256.47 C 233.42 260.93 221.88 263.23 210.24 263.23 C 198.59 263.23 187.05 260.93 176.29 256.47 C 165.53 252.02 155.75 245.48 147.51 237.25 C 139.28 229.01 132.74 219.23 128.28 208.47 C 123.83 197.71 121.53 186.17 121.53 174.52 C 121.53 162.87 123.83 151.34 128.28 140.58 C 132.74 129.82 139.28 120.04 147.51 111.80 C 155.75 103.56 165.53 97.03 176.29 92.57 C 187.05 88.11 198.59 85.82 210.24 85.82 " clip-path="url(#p0adf4e4803)" style="fill: none; stroke: #b0b0b0; stroke-width: 0.8; stroke-linecap: square"/> </g> <g id="text_14"> <text style="white-space: pre; font-size: 10px; font-family: 'DejaVu Sans', 'Liberation Sans', sans-serif; text-anchor: start" x="244.18" y="90.49">60</text> </g> </g> <g id="ytick_7"> <g id="line2d_15"> <path d="M 210.24 71.04 C 223.82 71.04 237.28 73.71 249.84 78.91 C 262.39 84.11 273.80 91.74 283.41 101.35 C 293.02 110.96 300.64 122.36 305.85 134.92 C 311.05 147.48 313.72 160.93 313.72 174.52 C 313.72 188.11 311.05 201.57 305.85 214.13 C 300.64 226.68 293.02 238.09 283.41 247.70 C 273.80 257.31 262.39 264.93 249.84 270.13 C 237.28 275.33 223.82 278.01 210.24 278.01 C 196.65 278.01 183.19 275.33 170.63 270.13 C 158.08 264.93 146.67 257.31 137.06 247.70 C 127.45 238.09 119.83 226.68 114.62 214.13 C 109.42 201.57 106.75 188.11 106.75 174.52 C 106.75 160.93 109.42 147.48 114.62 134.92 C 119.83 122.36 127.45 110.96 137.06 101.35 C 146.67 91.74 158.08 84.11 170.63 78.91 C 183.19 73.71 196.65 71.04 210.24 71.04 " clip-path="url(#p0adf4e4803)" style="fill: none; stroke: #b0b0b0; stroke-width: 0.8; stroke-linecap: square"/> </g> <g id="text_15"> <text style="white-space: pre; font-size: 10px; font-family: 'DejaVu Sans', 'Liberation Sans', sans-serif; text-anchor: start" x="249.84" y="76.83">70</text> </g> </g> <g id="ytick_8"> <g id="line2d_16"> <path d="M 210.24 56.25 C 225.77 56.25 241.15 59.31 255.50 65.25 C 269.84 71.20 282.88 79.91 293.87 90.89 C 304.85 101.87 313.56 114.91 319.50 129.26 C 325.45 143.61 328.51 158.99 328.51 174.52 C 328.51 190.05 325.45 205.43 319.50 219.78 C 313.56 234.13 304.85 247.17 293.87 258.15 C 282.88 269.14 269.84 277.85 255.50 283.79 C 241.15 289.74 225.77 292.8 210.24 292.8 C 194.70 292.8 179.32 289.74 164.97 283.79 C 150.63 277.85 137.59 269.14 126.60 258.15 C 115.62 247.17 106.91 234.13 100.97 219.78 C 95.02 205.43 91.96 190.05 91.96 174.52 C 91.96 158.99 95.02 143.61 100.97 129.26 C 106.91 114.91 115.62 101.87 126.60 90.89 C 137.59 79.91 150.63 71.20 164.97 65.25 C 179.32 59.31 194.70 56.25 210.24 56.25 " clip-path="url(#p0adf4e4803)" style="fill: none; stroke: #b0b0b0; stroke-width: 0.8; stroke-linecap: square"/> </g> <g id="text_16"> <text style="white-space: pre; font-size: 10px; font-family: 'DejaVu Sans', 'Liberation Sans', sans-serif; text-anchor: start" x="255.50" y="63.17">80</text> </g> </g> <g id="ytick_9"> <g id="line2d_17"> <path d="M 210.24 41.47 C 227.71 41.47 245.01 44.91 261.15 51.60 C 277.30 58.28 291.96 68.08 304.32 80.44 C 316.67 92.79 326.48 107.46 333.16 123.60 C 339.85 139.75 343.29 157.05 343.29 174.52 C 343.29 192.00 339.85 209.30 333.16 225.44 C 326.48 241.58 316.67 256.25 304.32 268.61 C 291.96 280.96 277.30 290.76 261.15 297.45 C 245.01 304.14 227.71 307.58 210.24 307.58 C 192.76 307.58 175.46 304.14 159.32 297.45 C 143.17 290.76 128.51 280.96 116.15 268.61 C 103.80 256.25 93.99 241.58 87.31 225.44 C 80.62 209.30 77.18 192.00 77.18 174.52 C 77.18 157.05 80.62 139.75 87.31 123.60 C 93.99 107.46 103.80 92.79 116.15 80.44 C 128.51 68.08 143.17 58.28 159.32 51.60 C 175.46 44.91 192.76 41.47 210.24 41.47 " clip-path="url(#p0adf4e4803)" style="fill: none; stroke: #b0b0b0; stroke-width: 0.8; stroke-linecap: square"/> </g> <g id="text_17"> <text style="white-space: pre; font-size: 10px; font-family: 'DejaVu Sans', 'Liberation Sans', sans-serif; text-anchor: start" x="261.15" y="49.52">90</text> </g> </g> </g> <g id="patch_3"> <path d="M 210.24 41.47 C 192.76 41.47 175.46 44.91 159.32 51.60 C 143.17 58.28 128.51 68.08 116.15 80.44 C 103.80 92.79 93.99 107.46 87.31 123.60 C 80.62 139.75 77.18 157.05 77.18 174.52 C 77.18 192.00 80.62 209.30 87.31 225.44 C 93.99 241.58 103.80 256.25 116.15 268.61 C 128.51 280.96 143.17 290.76 159.32 297.45 C 175.46 304.14 192.76 307.58 210.24 307.58 C 227.71 307.58 245.01 304.14 261.15 297.45 C 277.30 290.76 291.96 280.96 304.32 268.61 C 316.67 256.25 326.48 241.58 333.16 225.44 C 339.85 209.30 343.29 192.00 343.29 174.52 C 343.29 157.05 339.85 139.75 333.16 123.60 C 326.48 107.46 316.67 92.79 304.32 80.44 C 291.96 68.08 277.30 58.28 261.15 51.60 C 245.01 44.91 227.71 41.47 210.24 41.47 " style="fill: none; stroke: #000000; stroke-width: 0.8; stroke-linejoin: miter; stroke-linecap: square"/> </g> <g id="text_18"> <text style="white-space: pre; font-size: 12px; font-family: 'DejaVu Sans', 'Liberation Sans', sans-serif; text-anchor: middle" x="210.24" y="16.63">Antenna Phase Biases: STXS900A        NONE GLONASS-L1</text> </g> </g> <g id="axes_2"> <g id="patch_4" transform="translate(9.8824 0.7170) scale(0.97444 0.99838)"> <path d="M 361.15 307.58 L 374.45 307.58 L 374.45 41.47 L 361.15 41.47 z " style="fill: #ffffff"/> </g> <g id="QuadMesh_1" transform="translate(9.8824 0.7170) scale(0.97444 0.99838)" shape-rendering="crispEdges"> <path d="M 361.15 307.58 L 374.45 307.58 L 374.45 280.97 L 361.15 280.97 L 361.15 307.58 " clip-path="url(#pe87bb49271)" style="fill: #471365"/> <path d="M 361.15 280.97 L 374.45 280.97 L 374.45 254.36 L 361.15 254.36 L 361.15 280.97 " clip-path="url(#pe87bb49271)" style="fill: #463480"/> <path d="M 361.15 254.36 L 374.45 254.36 L 374.45 227.75 L 361.15 227.75 L 361.15 254.36 " clip-path="url(#pe87bb49271)" style="fill: #3b528b"/> <path d="M 361.15 227.75 L 374.45 227.75 L 374.45 201.13 L 361.15 201.13 L 361.15 227.75 " clip-path="url(#pe87bb49271)" style="fill: #2f6c8e"/> <path d="M 361.15 201.13 L 374.45 201.13 L 374.45 174.52 L 361.15 174.52 L 361.15 201.13 " clip-path="url(#pe87bb49271)" style="fill: #25848e"/> <path d="M 361.15 174.52 L 374.45 174.52 L 374.45 147.91 L 361.15 147.91 L 361.15 174.52 " clip-path="url(#pe87bb49271)" style="fill: #1e9c89"/> <path d="M 361.15 147.91 L 374.45 147.91 L 374.45 121.30 L 361.15 121.30 L 361.15 147.91 " clip-path="url(#pe87bb49271)" style="fill: #2fb47c"/> <path d="M 361.15 121.30 L 374.45 121.30 L 374.45 94.69 L 361.15 94.69 L 361.15 121.30 " clip-path="url(#pe87bb49271)" style="fill: #5ec962"/> <path d="M 361.15 94.69 L 374.45 94.69 L 374.45 68.08 L 361.15 68.08 L 361.15 94.69 " clip-path="url(#pe87bb49271)" style="fill: #9bd93c"/> <path d="M 361.15 68.08 L 374.45 68.08 L 374.45 41.47 L 361.15 41.47 L 361.15 68.08 " clip-path="url(#pe87bb49271)" style="fill: #dfe318"/> </g> <g id="matplotlib.axis_3"/> <g id="matplotlib.axis_4"> <g id="ytick_10"> <g id="line2d_18"> <g> <path d="M 0 0 L 3.5 0" transform="translate(375.05 281.16)" style="stroke: #000000; stroke-width: 0.8"/> </g> </g> <g id="text_19"> <text style="white-space: pre; font-size: 10px; font-family: 'DejaVu Sans', 'Liberation Sans', sans-serif; text-anchor: start" x="381.45" y="284.77">−4</text> </g> </g> <g id="ytick_11"> <g id="line2d_19"> <g> <path d="M 0 0 L 3.5 0" transform="translate(375.05 227.88)" style="stroke: #000000; stroke-width: 0.8"/> </g> </g> <g id="text_20"> <text style="white-space: pre; font-size: 10px; font-family: 'DejaVu Sans', 'Liberation Sans', sans-serif; text-anchor: start" x="381.45" y="231.54">−2</text> </g> </g> <g id="ytick_12"> <g id="line2d_20"> <g> <path d="M 0 0 L 3.5 0" transform="translate(375.05 174.6)" style="stroke: #000000; stroke-width: 0.8"/> </g> </g> <g id="text_21"> <text style="white-space: pre; font-size: 10px; font-family: 'DejaVu Sans', 'Liberation Sans', sans-serif; text-anchor: start" x="381.45" y="178.32">0</text> </g> </g> <g id="ytick_13"> <g id="line2d_21"> <g> <path d="M 0 0 L 3.5 0" transform="translate(375.05 121.32)" style="stroke: #000000; stroke-width: 0.8"/> </g> </g> <g id="text_22"> <text style="white-space: pre; font-size: 10px; font-family: 'DejaVu Sans', 'Liberation Sans', sans-serif; text-anchor: start" x="381.45" y="125.10">2</text> </g> </g> <g id="ytick_14"> <g id="line2d_22"> <g> <path d="M 0 0 L 3.5 0" transform="translate(375.05 68.76)" style="stroke: #000000; stroke-width: 0.8"/> </g> </g> <g id="text_23"> <text style="white-space: pre; font-size: 10px; font-family: 'DejaVu Sans', 'Liberation Sans', sans-serif; text-anchor: start" x="381.45" y="71.88">4</text> </g> </g> <g id="text_24"> <text style="white-space: pre; font-size: 10px; font-family: 'DejaVu Sans', 'Liberation Sans', sans-serif; text-anchor: middle" x="407.79" y="174.52" transform="rotate(-90 407.79 174.52)">Bias (mm)</text> </g> </g> <g id="LineCollection_1"/> <g id="patch_5" transform="translate(9.8824 0.7170) scale(0.97444 0.99838)"> <path d="M 361.15 307.58 L 367.80 307.58 L 374.45 307.58 L 374.45 41.47 L 367.80 41.47 L 361.15 41.47 L 361.15 307.58 z " style="fill: none; stroke: #000000; stroke-width: 0.8; stroke-linejoin: miter; stroke-linecap: square"/> </g> </g> </g> <defs> <clipPath id="p0adf4e4803"> <path d="M 343.29 174.52 C 343.29 157.05 339.85 139.75 333.16 123.60 C 326.48 107.46 316.67 92.79 304.32 80.44 C 291.96 68.08 277.30 58.28 261.15 51.60 C 245.01 44.91 227.71 41.47 210.24 41.47 C 192.76 41.47 175.46 44.91 159.32 51.60 C 143.17 58.28 128.51 68.08 116.15 80.44 C 103.80 92.79 93.99 107.46 87.31 123.60 C 80.62 139.75 77.18 157.05 77.18 174.52 C 77.18 192.00 80.62 209.30 87.31 225.44 C 93.99 241.58 103.80 256.25 116.15 268.61 C 128.51 280.96 143.17 290.76 159.32 297.45 C 175.46 304.14 192.76 307.58 210.24 307.58 C 227.71 307.58 245.01 304.14 261.15 297.45 C 277.30 290.76 291.96 280.96 304.32 268.61 C 316.67 256.25 326.48 241.58 333.16 225.44 C 339.85 209.30 343.29 192.00 343.29 174.52 M 210.24 174.52 C 210.24 174.52 210.24 174.52 210.24 174.52 C 210.24 174.52 210.24 174.52 210.24 174.52 C 210.24 174.52 210.24 174.52 210.24 174.52 C 210.24 174.52 210.24 174.52 210.24 174.52 C 210.24 174.52 210.24 174.52 210.24 174.52 C 210.24 174.52 210.24 174.52 210.24 174.52 C 210.24 174.52 210.24 174.52 210.24 174.52 C 210.24 174.52 210.24 174.52 210.24 174.52 C 210.24 174.52 210.24 174.52 210.24 174.52 C 210.24 174.52 210.24 174.52 210.24 174.52 C 210.24 174.52 210.24 174.52 210.24 174.52 C 210.24 174.52 210.24 174.52 210.24 174.52 C 210.24 174.52 210.24 174.52 210.24 174.52 C 210.24 174.52 210.24 174.52 210.24 174.52 C 210.24 174.52 210.24 174.52 210.24 174.52 C 210.24 174.52 210.24 174.52 210.24 174.52 z "/> </clipPath> <clipPath id="pe87bb49271"> <rect x="361.15" y="41.47" width="13.30" height="266.11"/> </clipPath> </defs> </svg> 
</body></html>
